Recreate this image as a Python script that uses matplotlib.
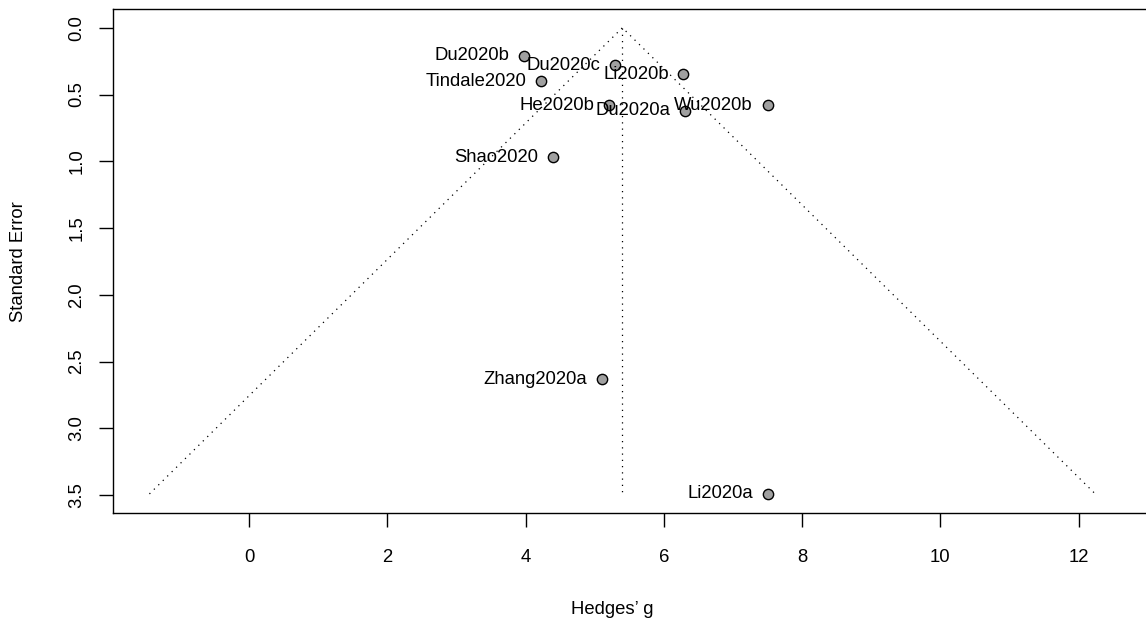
import matplotlib
matplotlib.use("Agg")
import matplotlib.pyplot as plt
import numpy as np

plt.rcParams['font.family'] = ['Liberation Sans', 'DejaVu Sans']

studies = ["Du2020b", "Tindale2020", "Du2020c", "Li2020b", "He2020b",
           "Du2020a", "Wu2020b", "Shao2020", "Zhang2020a", "Li2020a"]
hedges_g = [3.97, 4.23, 5.29, 6.28, 5.21, 6.31, 7.50, 4.40, 5.10, 7.50]
std_err = [0.21, 0.40, 0.28, 0.35, 0.58, 0.62, 0.58, 0.97, 2.63, 3.49]
pooled = 5.40
x_ticks = [0, 2, 4, 6, 8, 10, 12]
y_ticks = [0.0, 0.5, 1.0, 1.5, 2.0, 2.5, 3.0, 3.5]

W, H = 1146, 625
fig = plt.figure(figsize=(W / 100, H / 100), dpi=100)
left_px, right_px, top_px, bot_px = 113.3, 1160, 9.3, 513.3
ax = fig.add_axes([left_px / W, (H - bot_px) / H, (right_px - left_px) / W, (bot_px - top_px) / H])

fs = 13.3
semax = max(std_err)
dots = (0, (1, 4))
ax.plot([pooled, pooled], [0, semax], color='black', lw=0.9, linestyle=dots)
ax.plot([pooled - 1.96 * semax, pooled, pooled + 1.96 * semax], [semax, 0, semax],
        color='black', lw=0.9, linestyle=dots)

ax.scatter(hedges_g, std_err, s=55, facecolor='#a0a0a0', edgecolor='black', linewidths=1.0, zorder=3)
for name, x, y in zip(studies, hedges_g, std_err):
    ax.annotate(name, (x, y), xytext=(-10.5, 0), textcoords='offset points',
                ha='right', va='center', fontsize=fs, color='black', zorder=4)

ax.set_xlim(-1.963, 13.176)
ax.set_ylim(3.635, -0.138)
ax.set_xticks(x_ticks)
ax.set_xticklabels([str(v) for v in x_ticks])
ax.set_yticks(y_ticks)
ax.set_yticklabels([f"{v:.1f}" for v in y_ticks], rotation=90, va='center')
ax.tick_params(axis='both', direction='out', length=10, width=1.0, labelsize=fs)
ax.tick_params(axis='x', pad=15.5)
ax.tick_params(axis='y', pad=10)
for s in ['left', 'bottom', 'top']:
    ax.spines[s].set_linewidth(1.0)
ax.spines['right'].set_visible(False)

fig.text(612 / W, 1 - 610 / H, "Hedges\u2019 g", ha='center', va='center', fontsize=fs)
fig.text(19 / W, 1 - 262 / H, "Standard Error", ha='center', va='center', rotation=90, fontsize=fs)

fig.savefig("out.png", dpi=100)
